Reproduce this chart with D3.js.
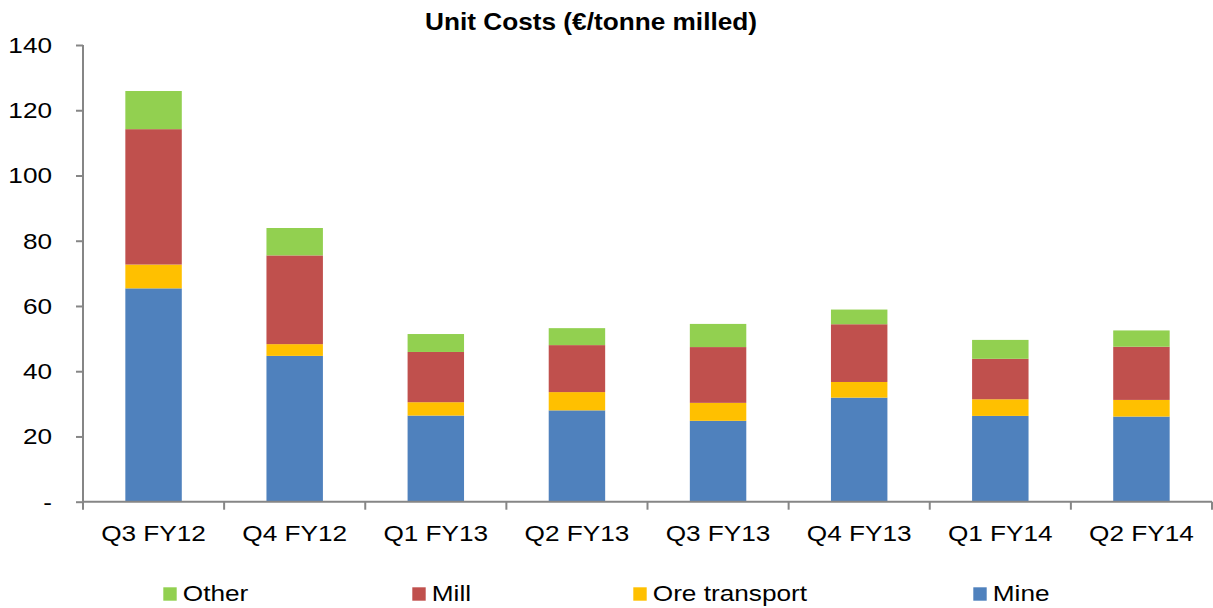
<!DOCTYPE html>
<html><head><meta charset="utf-8">
<script src="https://cdn.jsdelivr.net/npm/d3@7"></script>
<style>body{margin:0;background:#fff}svg{display:block}text{font-family:"Liberation Sans",Arial,sans-serif;fill:#000}</style>
</head><body><svg id="c" width="1213" height="608"></svg>
<script>
const categories = ["Q3 FY12","Q4 FY12","Q1 FY13","Q2 FY13","Q3 FY13","Q4 FY13","Q1 FY14","Q2 FY14"];
const mine        = [65.4, 44.7, 26.4, 28.0, 24.8, 31.9, 26.3, 26.1];
const oreTransport= [7.3, 3.6, 4.1, 5.6, 5.5, 4.8, 5.1, 5.1];
const mill        = [41.5, 27.2, 15.4, 14.4, 17.1, 17.7, 12.4, 16.3];
const other       = [11.7, 8.4, 5.5, 5.2, 7.1, 4.5, 5.8, 5.0];
const seriesNames = ["Mine","Ore transport","Mill","Other"];
const legendOrder = ["Other","Mill","Ore transport","Mine"];
const yTicks = [0,20,40,60,80,100,120,140];
const title = "Unit Costs (€/tonne milled)";

const colors = {"Mine":"#4F81BD","Ore transport":"#FFC000","Mill":"#C0504D","Other":"#92D050"};
const seriesVals = {"Mine":mine,"Ore transport":oreTransport,"Mill":mill,"Other":other};
const table = categories.map((c,i)=>{const o={cat:c}; seriesNames.forEach(s=>o[s]=seriesVals[s][i]); return o;});

const svg = d3.select("#c");
const SX = 1.19;
const L=83, R=1212, T=45, B=501.7;
const x = d3.scaleBand().domain(categories).range([L,R]).paddingInner(0.6).paddingOuter(0.3);
const xb = d3.scaleBand().domain(categories).range([L,R]);
const y = d3.scaleLinear().domain([0,140]).range([B,T]);
const axisColor = "#868686";

function stxt(g, xx, yy, str, anchor, size, weight, sx){
  return g.append("text").attr("transform",`translate(${xx},${yy}) scale(${sx||SX},1)`)
    .attr("text-anchor",anchor).attr("font-size",size).attr("font-weight",weight||"normal").text(str);
}

// title
stxt(svg, 591, 30, title, "middle", 23, "bold", 1.14);

// bars
const stack = d3.stack().keys(seriesNames)(table);
svg.append("g").selectAll("g").data(stack).join("g").attr("fill",d=>colors[d.key])
  .selectAll("rect").data(d=>d).join("rect")
  .attr("x",d=>x(d.data.cat)).attr("width",x.bandwidth())
  .attr("y",d=>y(d[1])).attr("height",d=>y(d[0])-y(d[1]));

// y axis
const ya = svg.append("g").attr("transform",`translate(${L},0)`)
  .call(d3.axisLeft(y).tickValues(yTicks).tickSize(7).tickFormat(""));
ya.selectAll("path,line").attr("stroke",axisColor).attr("stroke-width",2);
ya.select(".domain").attr("d",`M0,${T}V${B}`);
yTicks.forEach(v=>{
  stxt(svg, 52, y(v)+8, v===0?"-":String(v), "end", 22);
});

// x axis
const xa = svg.append("g").attr("transform",`translate(0,${B})`)
  .call(d3.axisBottom(xb).tickSize(0).tickFormat(""));
xa.selectAll("path").attr("stroke",axisColor).attr("stroke-width",2).attr("d",`M${L},0H${R}`);
const bounds = categories.map(c=>xb(c)).concat([R]);
svg.append("g").selectAll("line").data(bounds).join("line")
  .attr("x1",d=>d).attr("x2",d=>d).attr("y1",B).attr("y2",B+8)
  .attr("stroke",axisColor).attr("stroke-width",2);
categories.forEach(c=>{
  stxt(svg, xb(c)+xb.bandwidth()/2, 541, c, "middle", 22);
});

// legend
const legX = {"Other":163.3,"Mill":412.3,"Ore transport":633.3,"Mine":973.3};
legendOrder.forEach(s=>{
  svg.append("rect").attr("x",legX[s]).attr("y",587.3).attr("width",13.4).attr("height",13.4).attr("fill",colors[s]);
  stxt(svg, legX[s]+19.5, 601, s, "start", 22);
});
</script></body></html>
